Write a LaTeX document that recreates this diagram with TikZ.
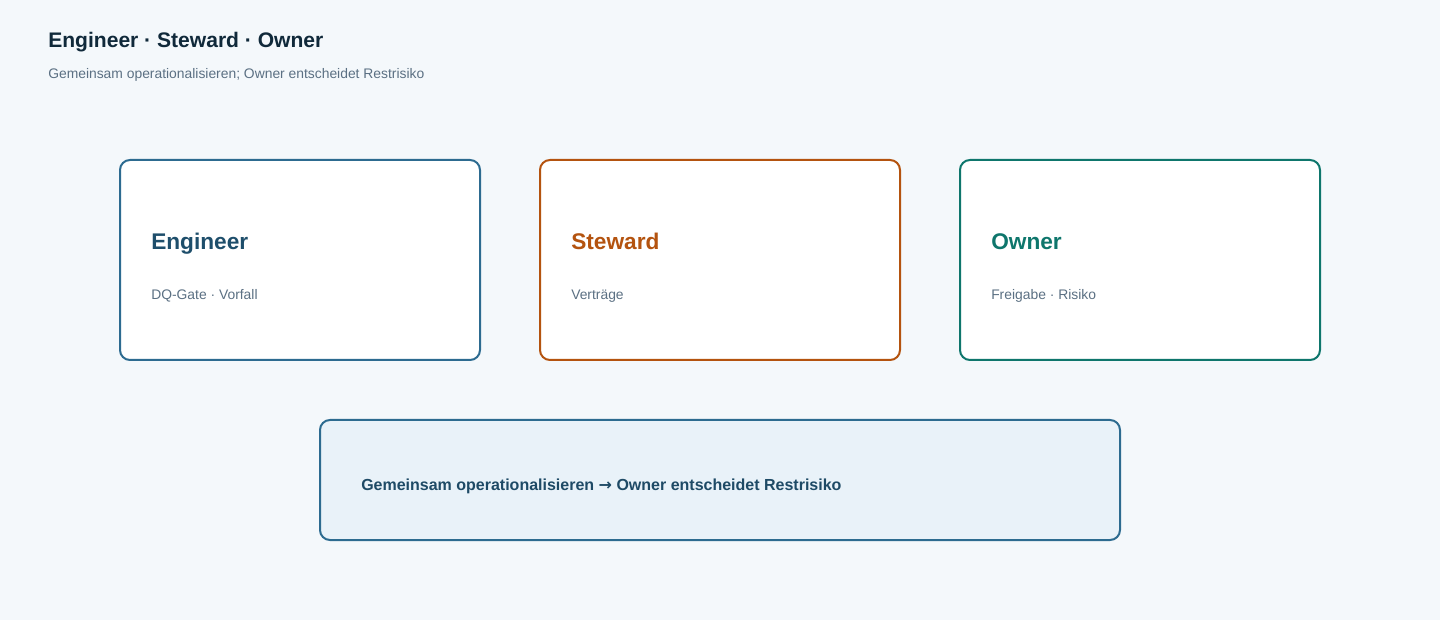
\documentclass[tikz,border=0pt]{standalone}
\usepackage{fontspec}
\setmainfont{Liberation Sans}
\newfontfamily\arrowfont{DejaVu Sans}
\usetikzlibrary{positioning}

\definecolor{bgcol}{HTML}{F4F8FB}
\definecolor{headcol}{HTML}{10293A}
\definecolor{subcol}{HTML}{5B7083}
\definecolor{engcol}{HTML}{2D6B90}
\definecolor{engtxt}{HTML}{1E4E6B}
\definecolor{stwcol}{HTML}{B4530F}
\definecolor{owncol}{HTML}{0E766C}
\definecolor{notefill}{HTML}{E9F2F9}
\definecolor{notetxt}{HTML}{1E4A66}

\begin{document}
\begin{tikzpicture}[x=0.75pt,y=-0.75pt,
    card/.style={draw, fill=white, line width=1.5pt, rounded corners=7.5pt, outer sep=0pt,
                 minimum width=270pt, minimum height=150pt},
    cardtitle/.style={anchor=base west, inner sep=0pt, font=\fontsize{17}{20}\selectfont\bfseries},
    cardsub/.style={anchor=base west, inner sep=0pt, text=subcol, font=\fontsize{10.4}{12}\selectfont}]
    \fill[bgcol] (0,0) rectangle (1440,620);
    \useasboundingbox (0,0) rectangle (1440,620);

    %header
    \node[anchor=base west, inner sep=0pt, text=headcol, font=\fontsize{15.8}{18}\selectfont\bfseries] (head) at (48,48) {Engineer · Steward · Owner};
    \node[anchor=base west, inner sep=0pt, text=subcol, font=\fontsize{10.4}{12}\selectfont] (headsub) at (48,79) {Gemeinsam operationalisieren; Owner entscheidet Restrisiko};

    %cards
    \node[card, draw=engcol, anchor=north west] (engineer) at (120,160) {};
    \node[card, draw=stwcol] (steward) [right=45pt of engineer] {};
    \node[card, draw=owncol] (owner) [right=45pt of steward] {};

    \node[cardtitle, text=engtxt] (engineer-title) at (151,250) {Engineer};
    \node[cardsub] (engineer-sub) at (151,300) {DQ-Gate · Vorfall};
    \node[cardtitle, text=stwcol] (steward-title) at (571,250) {Steward};
    \node[cardsub] (steward-sub) at (571,300) {Verträge};
    \node[cardtitle, text=owncol] (owner-title) at (991,250) {Owner};
    \node[cardsub] (owner-sub) at (991,300) {Freigabe · Risiko};

    %summary
    \node[card, draw=engcol, fill=notefill, minimum width=600pt, minimum height=90pt, anchor=north west] (summary) at (320,420) {};
    \node[anchor=base west, inner sep=0pt, text=notetxt, font=\fontsize{12}{14}\selectfont\bfseries] (summary-text) at (361,490) {Gemeinsam operationalisieren {\arrowfont →} Owner entscheidet Restrisiko};
\end{tikzpicture}
\end{document}
